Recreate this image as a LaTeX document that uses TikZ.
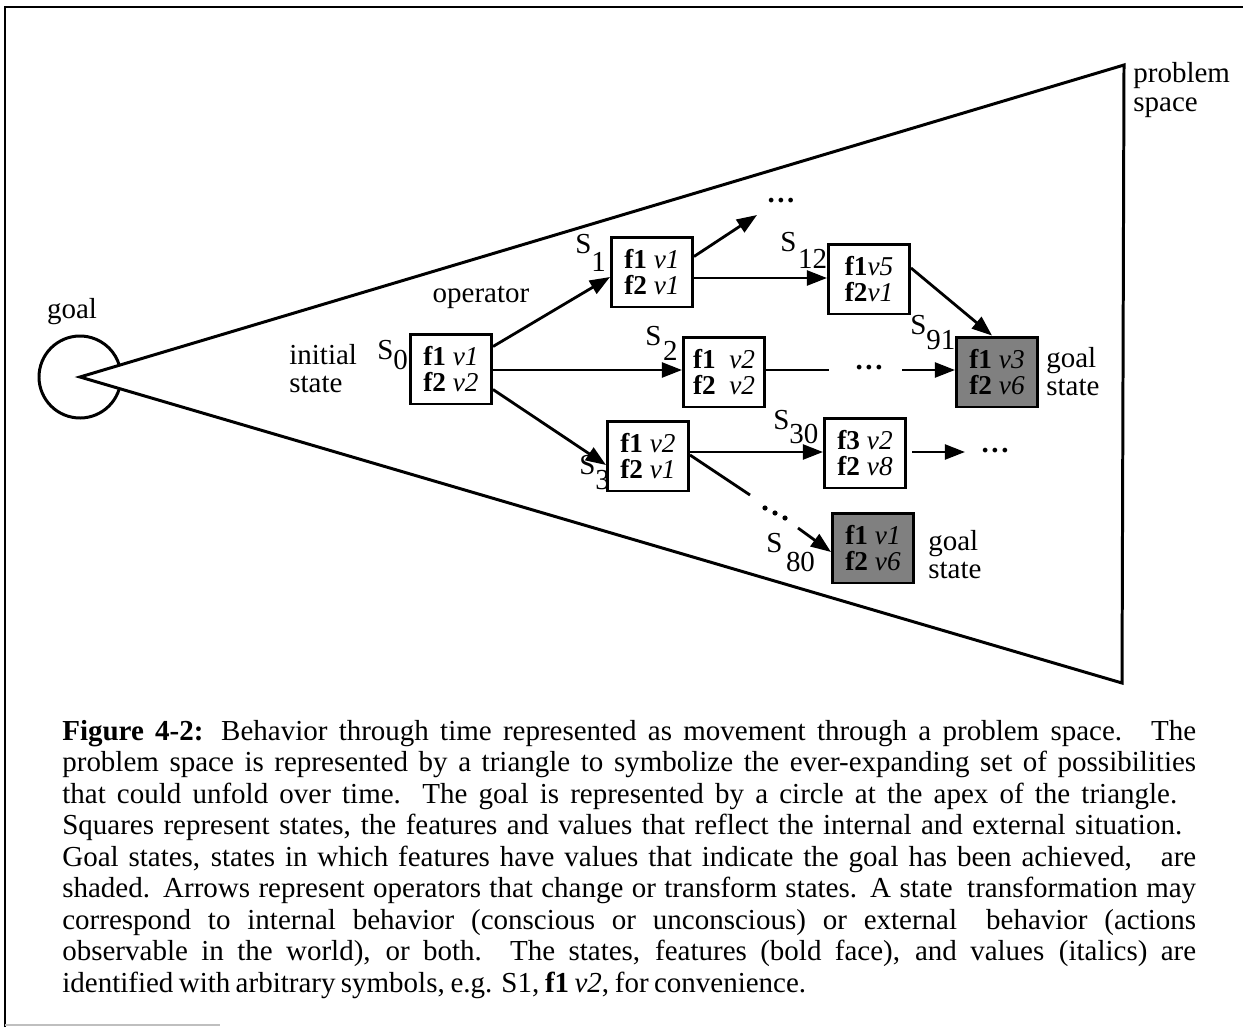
\documentclass[tikz,border=0pt]{standalone}
\usepackage{fontspec}
\setmainfont{Liberation Serif}
\usetikzlibrary{arrows.meta,calc}
\begin{document}
\begin{tikzpicture}[x=0.02cm,y=-0.02cm,
  thick line/.style={line width=1.7pt},
  stbox/.style={draw,line width=1.7pt,minimum width=1.62cm,minimum height=1.4cm,inner sep=0pt,align=center,font=\fontsize{15.5}{14.5}\selectfont},
  goalbox/.style={stbox,fill=black!50},
  lbl/.style={font=\fontsize{16.5}{16}\selectfont,inner sep=0pt,align=left},
  slbl/.style={font=\fontsize{16.5}{16}\selectfont,inner sep=0pt,anchor=base west},
  arr/.style={line width=1.6pt,-{Triangle[length=11.5pt,width=8.5pt]}},
  plain/.style={line width=1.6pt},
  dotlbl/.style={font=\fontsize{16.5}{16}\selectfont\bfseries,inner sep=0pt},
  dotmark/.style={fill=black,draw=none}
]
\useasboundingbox (0,0) rectangle (1243,1027);
% frame
\draw[line width=1.7pt] (5,1027) -- (5,7) -- (1243,7);
\draw[black!25,line width=0.8pt] (5,1025) -- (220,1025);
% problem space triangle and goal circle
\coordinate (apex) at (80,377);
\coordinate (tr) at (1124,65);
\coordinate (br) at (1122,683);
\draw[thick line,line join=miter] (apex) -- (tr) -- (br) -- cycle;
\draw[thick line] (apex) ++(16.6:41) arc[start angle=16.6,end angle=343.4,radius=41];
\node[lbl] (goallbl) at (72,312) {goal};
\node[lbl,anchor=west] (pslbl) at (1133,90) {problem\\space};
\node[lbl,anchor=west] (initlbl) at (289,369) {initial\\state};
\node[lbl] (oplbl) at (481,297) {operator};
% states
\node[stbox] (s0) at (451,369) {\textbf{f1} \textit{v1}\\\textbf{f2} \textit{v2}};
\node[stbox] (s1) at (652,272) {\textbf{f1} \textit{v1}\\\textbf{f2} \textit{v1}};
\node[stbox] (s12) at (869,279) {\textbf{f1}\textit{v5}\\\textbf{f2}\textit{v1}};
\node[stbox] (s2) at (724,372) {\textbf{f1}\enspace\textit{v2}\\\textbf{f2}\enspace\textit{v2}};
\node[goalbox] (s91) at (997,372) {\textbf{f1} \textit{v3}\\\textbf{f2} \textit{v6}};
\node[stbox] (s3) at (648,456) {\textbf{f1} \textit{v2}\\\textbf{f2} \textit{v1}};
\node[stbox] (s30) at (865,453) {\textbf{f3} \textit{v2}\\\textbf{f2} \textit{v8}};
\node[goalbox] (s80) at (873,548) {\textbf{f1} \textit{v1}\\\textbf{f2} \textit{v6}};
% state labels
\node[slbl] (l0) at (377,359) {S\raisebox{-6pt}{0}};
\node[slbl] (l1) at (575,254) {S\raisebox{-10pt}{1}};
\node[slbl] (l12) at (780,251) {S\kern1pt\raisebox{-10pt}{12}};
\node[slbl] (l2) at (645,345) {S\kern1pt\raisebox{-9pt}{2}};
\node[slbl] (l91) at (910,334) {S\raisebox{-9pt}{91}};
\node[slbl] (l3) at (579,474) {S\raisebox{-9pt}{3}};
\node[slbl] (l30) at (773,429) {S\raisebox{-8pt}{30}};
\node[slbl] (l80) at (766,552) {S\kern2pt\raisebox{-11pt}{80}};
\node[lbl,anchor=west] (g91) at (1046,372) {goal\\state};
\node[lbl,anchor=west] (g80) at (928,555) {goal\\state};
% dots
\node[dotlbl] (dtop) at (781,201) {.\kern1.5pt.\kern1.5pt.};
\node[dotlbl] (dmid) at (869,368) {.\kern1.5pt.\kern1.5pt.};
\node[dotlbl] (d30) at (995,451) {.\kern1.5pt.\kern1.5pt.};
\fill[dotmark] (765,508) circle (2.6) (775,513) circle (2.6) (785,518) circle (2.6);
% connector end points
\coordinate (a1) at (757,215);
\coordinate (a2) at (829,370);
\coordinate (a3) at (902,370);
\coordinate (a4) at (965,452);
\coordinate (a5) at (750,495);
\coordinate (a6) at (798,528);
% operators
\draw[arr] ($(s0.north east)+(0,14)$) -- ($(s1.west)+(0,5)$);
\draw[arr] ($(s0.east)+(0,1)$) -- ($(s2.west)+(0,-2)$);
\draw[arr] ($(s0.south east)+(0,-16)$) -- ($(s3.west)+(0,9)$);
\draw[arr] ($(s1.north east)+(0,21)$) -- (a1);
\draw[arr] ($(s1.east)+(0,6)$) -- ($(s12.west)+(0,-1)$);
\draw[arr] ($(s12.east)+(0,-11)$) -- ($(s91.north)+(-5,0)$);
\draw[plain] ($(s2.east)+(0,-2)$) -- (a2);
\draw[arr] (a3) -- ($(s91.west)+(0,-2)$);
\draw[arr] ($(s3.east)+(0,-4)$) -- ($(s30.west)+(0,-1)$);
\draw[arr] ($(s30.east)+(5,-1)$) -- (a4);
\draw[plain] ($(s3.east)+(0,-1)$) -- (a5);
\draw[arr] (a6) -- ($(s80.west)+(0,4)$);
% caption
\node[anchor=north west,inner sep=0pt,align=left,font=\fontsize{16.5}{17.9}\selectfont] (cap) at (62,720) {%
\makebox[22.68cm][s]{\textbf{Figure 4-2:} Behavior through time represented as movement through a problem space.\quad The}\\
\makebox[22.68cm][s]{problem space is represented by a triangle to symbolize the ever-expanding set of possibilities}\\
\makebox[22.3cm][s]{that could unfold over time. The goal is represented by a circle at the apex of the triangle.}\\
\makebox[22.4cm][s]{Squares represent states, the features and values that reflect the internal and external situation.}\\
\makebox[22.68cm][s]{Goal states, states in which features have values that indicate the goal has been achieved,\quad are}\\
\makebox[22.68cm][s]{shaded. Arrows represent operators that change or transform states. A state\enspace transformation may}\\
\makebox[22.68cm][s]{correspond to internal behavior (conscious or unconscious) or external\quad behavior (actions}\\
\makebox[22.68cm][s]{observable in the world), or both. The states, features (bold face), and values\enspace (italics) are}\\
\makebox[14.88cm][s]{identified with arbitrary symbols, e.g. S1, \textbf{f1} \textit{v2}, for convenience.}};
\end{tikzpicture}
\end{document}
